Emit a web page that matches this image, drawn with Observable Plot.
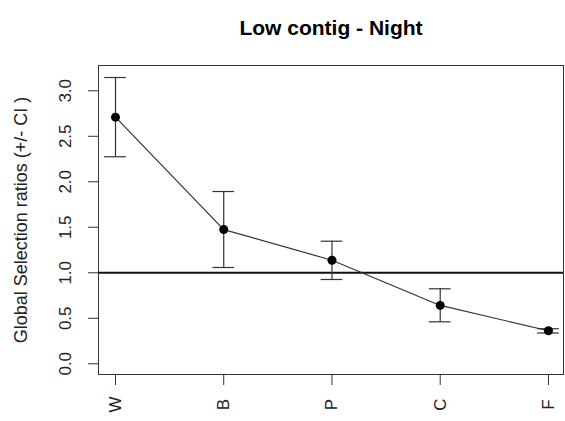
<!DOCTYPE html>
<html>
<head>
<meta charset="utf-8">
<script src="https://cdn.jsdelivr.net/npm/d3@7"></script>
<script src="https://cdn.jsdelivr.net/npm/@observablehq/plot@0.6"></script>
<style>
  html, body { margin: 0; padding: 0; background: #fff; }
  svg { display: block; }
</style>
</head>
<body>
<div id="chart"></div>
<script>
const categories = ["W", "B", "P", "C", "F"];
const ratio = [2.71, 1.475, 1.138, 0.641, 0.363];
const lower = [2.275, 1.058, 0.926, 0.461, 0.338];
const upper = [3.146, 1.893, 1.347, 0.824, 0.385];
const yTicks = [0, 0.5, 1, 1.5, 2, 2.5, 3];
const refLine = [1];
const title = "Low contig - Night";
const yLabel = "Global Selection ratios (+/- CI )";

const data = categories.map((c, i) => ({cat: c, idx: i + 1, ratio: ratio[i], lo: lower[i], hi: upper[i]}));
const xIdx = data.map(d => d.idx);
const capHalf = 0.1;
const font = "Liberation Sans, Arial, sans-serif";

const chart = Plot.plot({
  width: 565,
  height: 421,
  marginTop: 65,
  marginBottom: 47,
  marginLeft: 98,
  marginRight: 2,
  style: {fontFamily: font, background: "#fff"},
  x: {type: "linear", domain: [0.843, 5.139], axis: null},
  y: {type: "linear", domain: [-0.118, 3.278], axis: null},
  marks: [
    Plot.frame({stroke: "#333", strokeWidth: 1}),
    // axis ticks (no text)
    Plot.axisY({ticks: yTicks, tickSize: 10, tickFormat: () => "", label: null, stroke: "#333"}),
    Plot.axisX({ticks: xIdx, tickSize: 11, tickFormat: () => "", label: null, stroke: "#333"}),
    Plot.text(yTicks, {
      y: d => d, text: d => d.toFixed(1), frameAnchor: "left", dx: -33,
      rotate: -90, textAnchor: "middle", lineAnchor: "middle", fontSize: 17, fill: "#222"
    }),
    // x axis tick labels
    Plot.text(data, {
      x: "idx", text: "cat", frameAnchor: "bottom", dy: 30,
      rotate: -90, textAnchor: "middle", lineAnchor: "middle", fontSize: 17, fill: "#222"
    }),
    // title
    Plot.text([title], {
      text: d => d, frameAnchor: "top", dy: -37, fontSize: 21, fontWeight: "bold",
      textAnchor: "middle", lineAnchor: "middle", fill: "#000"
    }),
    // y label
    Plot.text([yLabel], {
      text: d => d, frameAnchor: "left", dx: -77, rotate: -90,
      textAnchor: "middle", lineAnchor: "middle", fontSize: 18, fill: "#222"
    }),
    // reference line
    Plot.ruleY(refLine, {stroke: "#111", strokeWidth: 2}),
    // error bars
    Plot.ruleX(data, {x: "idx", y1: "lo", y2: "hi", stroke: "#333", strokeWidth: 1.2}),
    Plot.ruleY(data, {y: "lo", x1: d => d.idx - capHalf, x2: d => d.idx + capHalf, stroke: "#333", strokeWidth: 1.2}),
    Plot.ruleY(data, {y: "hi", x1: d => d.idx - capHalf, x2: d => d.idx + capHalf, stroke: "#333", strokeWidth: 1.2}),
    // connecting line and points
    Plot.line(data, {x: "idx", y: "ratio", stroke: "#333", strokeWidth: 1.2}),
    Plot.dot(data, {x: "idx", y: "ratio", r: 4.5, fill: "#000", stroke: "none"})
  ]
});
document.getElementById("chart").appendChild(chart);
</script>
</body>
</html>
